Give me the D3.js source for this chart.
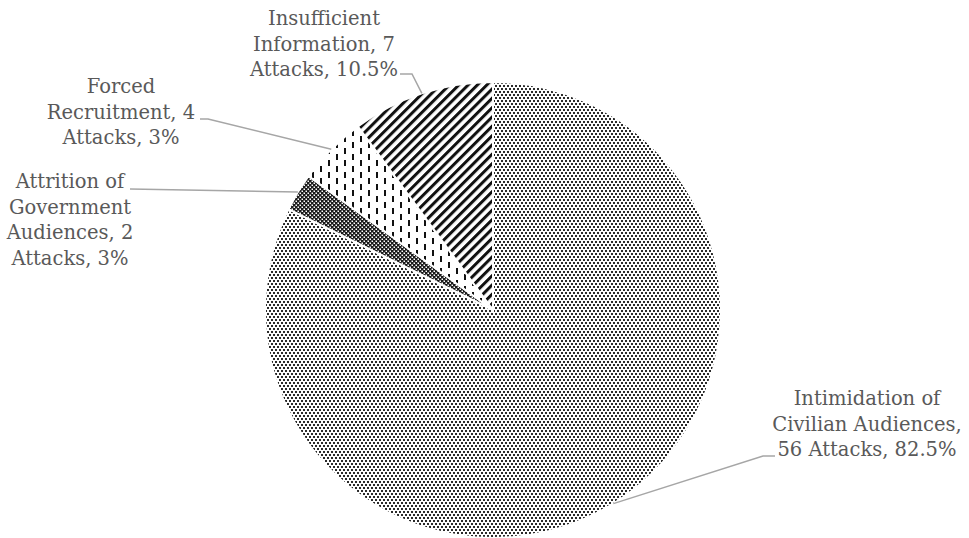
<!DOCTYPE html>
<html>
<head>
<meta charset="utf-8">
<script src="https://cdn.jsdelivr.net/npm/d3@7"></script>
<style>
  body { margin: 0; background: #fff; }
  svg { display: block; }
</style>
</head>
<body>
<svg id="chart" width="969" height="538"></svg>
<script>
// categories, in drawing order (clockwise from 12 o'clock)
const categories = [
  "Intimidation of Civilian Audiences",
  "Attrition of Government Audiences",
  "Forced Recruitment",
  "Insufficient Information"
];
// slice shares as drawn
const shares = [82.3, 2.7, 4.9, 10.1];
// label texts as printed on the chart
const labelLines = [
  ["Intimidation of", "Civilian Audiences,", "56 Attacks, 82.5%"],
  ["Attrition of", "Government", "Audiences, 2", "Attacks, 3%"],
  ["Forced", "Recruitment, 4", "Attacks, 3%"],
  ["Insufficient", "Information, 7", "Attacks, 10.5%"]
];
const patternIds = ["pDots", "pDark", "pDash", "pStripe"];

// label placement: centre x, first baseline y, and where the leader leaves the text
const labelPos = [
  { x: 867, y: 405, lx: 775, ly: 456, bx: 763 },
  { x: 70, y: 188, lx: 130, ly: 189, bx: 130 },
  { x: 121, y: 93, lx: 200, ly: 119, bx: 208 },
  { x: 324, y: 25, lx: 400, ly: 74, bx: 412 }
];

const svg = d3.select("#chart");
const cx = 493, cy = 310, r = 228;

// fill patterns
const defs = svg.append("defs");

let p = defs.append("pattern").attr("id", "pDots")
  .attr("patternUnits", "userSpaceOnUse").attr("width", 4).attr("height", 6);
p.append("rect").attr("width", 4).attr("height", 6).attr("fill", "#fff");
p.append("rect").attr("x", 0).attr("y", 0).attr("width", 2).attr("height", 2).attr("fill", "#2a2a2a");
p.append("rect").attr("x", 2).attr("y", 3).attr("width", 2).attr("height", 2).attr("fill", "#2a2a2a");

p = defs.append("pattern").attr("id", "pDark")
  .attr("patternUnits", "userSpaceOnUse").attr("width", 4).attr("height", 4);
p.append("rect").attr("width", 4).attr("height", 4).attr("fill", "#1a1a1a");
p.append("rect").attr("x", 0.5).attr("y", 0.5).attr("width", 1.5).attr("height", 1.5).attr("fill", "#fff");
p.append("rect").attr("x", 2.5).attr("y", 2.5).attr("width", 1.5).attr("height", 1.5).attr("fill", "#fff");

p = defs.append("pattern").attr("id", "pDash")
  .attr("patternUnits", "userSpaceOnUse").attr("width", 16).attr("height", 12);
p.append("rect").attr("width", 16).attr("height", 12).attr("fill", "#fff");
p.append("rect").attr("x", 3).attr("y", 0).attr("width", 2).attr("height", 6).attr("fill", "#111");
p.append("rect").attr("x", 11).attr("y", 6).attr("width", 2).attr("height", 6).attr("fill", "#111");

p = defs.append("pattern").attr("id", "pStripe")
  .attr("patternUnits", "userSpaceOnUse").attr("width", 6.6).attr("height", 6.6)
  .attr("patternTransform", "rotate(45)");
p.append("rect").attr("width", 6.6).attr("height", 6.6).attr("fill", "#fff");
p.append("rect").attr("x", 0).attr("width", 3).attr("height", 6.6).attr("fill", "#111");

// pie
const pie = d3.pie().sort(null).value(d => d)(shares);
const arc = d3.arc().innerRadius(0).outerRadius(r);

const g = svg.append("g").attr("transform", `translate(${cx},${cy})`);
g.selectAll("path")
  .data(pie)
  .join("path")
  .attr("d", arc)
  .attr("fill", (d, i) => `url(#${patternIds[i]})`)
  .attr("stroke", "#fff")
  .attr("stroke-width", 2);

// leader lines from label to slice edge at mid-angle
pie.forEach((d, i) => {
  const a = (d.startAngle + d.endAngle) / 2;
  const ex = cx + r * Math.sin(a), ey = cy - r * Math.cos(a);
  const lp = labelPos[i];
  svg.append("polyline")
    .attr("points", `${lp.lx},${lp.ly} ${lp.bx},${lp.ly} ${ex},${ey}`)
    .attr("fill", "none")
    .attr("stroke", "#a6a6a6")
    .attr("stroke-width", 1.5);
});

// labels
labelLines.forEach((lines, i) => {
  const lp = labelPos[i];
  const t = svg.append("text")
    .attr("text-anchor", "middle")
    .attr("font-family", "'DejaVu Serif', serif")
    .attr("font-size", 19.5)
    .attr("fill", "#595959");
  lines.forEach((s, j) => {
    t.append("tspan").attr("x", lp.x).attr("y", lp.y + j * 25.5).text(s);
  });
});
</script>
</body>
</html>
